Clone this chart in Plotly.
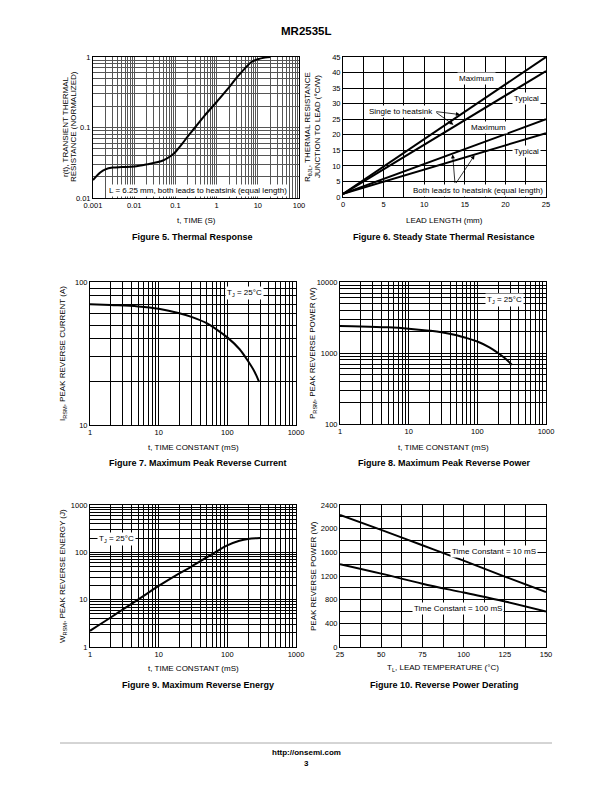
import plotly.graph_objects as go
import math

# ---------------- DATA ----------------
# Figure 5 - Thermal response
t5 = [0.001, 0.0015, 0.002, 0.003, 0.005, 0.01, 0.02, 0.05, 0.08, 0.1, 0.15, 0.2, 0.3, 0.5, 1, 2, 3, 5, 7, 10, 15, 20]
r5 = [0.018, 0.023, 0.0255, 0.027, 0.0275, 0.028, 0.030, 0.034, 0.040, 0.045, 0.060, 0.075, 0.10, 0.145, 0.23, 0.37, 0.50, 0.70, 0.85, 0.93, 0.98, 1.0]

# Figure 6 - Steady state thermal resistance
lead_len = [0, 25]
single_max = [1, 45]
single_typ = [1, 40.5]
both_max = [1, 25]
both_typ = [1, 20.5]

# Figure 7 - Maximum peak reverse current
t7 = [1, 2, 5, 10, 20, 30, 50, 70, 100, 150, 200, 250, 290]
i7 = [70, 69, 67.5, 65, 60.5, 57, 51.5, 46.5, 41, 34, 28, 23.5, 20]

# Figure 8 - Maximum peak reverse power
t8 = [1, 2, 5, 10, 20, 30, 50, 70, 100, 150, 200, 250, 320]
p8 = [2400, 2370, 2300, 2200, 2060, 1960, 1780, 1620, 1450, 1200, 1000, 850, 680]

# Figure 9 - Maximum reverse energy
t9 = [1, 2, 3, 5, 10, 20, 30, 50, 70, 100, 150, 200, 300]
w9 = [2.2, 4.2, 6.2, 10, 19.5, 36, 50, 78, 105, 140, 175, 192, 200]

# Figure 10 - Reverse power derating
temp10 = [25, 50, 75, 100, 125, 150]
p10_10ms = [2230, 1980, 1720, 1460, 1190, 930]
p10_100ms = [1400, 1240, 1070, 920, 770, 600]

# ---------------- LAYOUT HELPERS ----------------
OFF = 8  # default page body margin of the html page
W, H = 612 - OFF, 792 - OFF
FONT = "Liberation Sans, Arial, Helvetica, sans-serif"
TICKF = dict(family=FONT, size=7.5, color="black")


def px(x):
    return (x - OFF) / W


def py(y):
    return 1 - (y - OFF) / H


def dx(a, b):
    return [px(a), px(b)]


def dy(top, bottom):
    return [py(bottom), py(top)]


def log_ticks(lo, hi):
    major, minor = [], []
    for e in range(lo, hi):
        major.append(10 ** e)
        for m in range(2, 10):
            minor.append(m * 10 ** e)
    major.append(10 ** hi)
    return major, [f"{v:g}" for v in major], minor


def lin_ticks(lo, hi, step, label_every):
    major, minor = [], []
    n = int(round((hi - lo) / step))
    for i in range(n + 1):
        v = lo + i * step
        k = (v - lo) / label_every
        if abs(k - round(k)) < 1e-9:
            major.append(v)
        else:
            minor.append(v)
    return major, [f"{v:g}" for v in major], minor


def axis(domain, anchor, typ, rng, ticks, gridcolor="black", gw=0.8):
    vals, txt, minor = ticks
    return dict(
        domain=domain, anchor=anchor, type=typ, range=rng,
        tickmode="array", tickvals=vals, ticktext=txt,
        showgrid=True, gridcolor=gridcolor, gridwidth=gw,
        minor=dict(tickmode="array", tickvals=minor, showgrid=True,
                   gridcolor=gridcolor, gridwidth=gw, ticks=""),
        showline=True, mirror=True, linecolor="black", linewidth=1,
        ticks="", tickfont=TICKF, zeroline=False, automargin=False,
        fixedrange=True,
    )


fig = go.Figure()
line = dict(color="black", width=2)

fig.add_trace(go.Scatter(x=t5, y=r5, mode="lines", line=line, xaxis="x", yaxis="y", line_shape="spline"))
for ys in (single_max, single_typ, both_max, both_typ):
    fig.add_trace(go.Scatter(x=lead_len, y=ys, mode="lines", line=line, xaxis="x2", yaxis="y2"))
fig.add_trace(go.Scatter(x=t7, y=i7, mode="lines", line=line, xaxis="x3", yaxis="y3", line_shape="spline"))
fig.add_trace(go.Scatter(x=t8, y=p8, mode="lines", line=line, xaxis="x4", yaxis="y4", line_shape="spline"))
fig.add_trace(go.Scatter(x=t9, y=w9, mode="lines", line=line, xaxis="x5", yaxis="y5", line_shape="spline"))
fig.add_trace(go.Scatter(x=temp10, y=p10_10ms, mode="lines", line=line, xaxis="x6", yaxis="y6", line_shape="spline"))
fig.add_trace(go.Scatter(x=temp10, y=p10_100ms, mode="lines", line=line, xaxis="x6", yaxis="y6", line_shape="spline"))

# axes
xa1 = axis(dx(93, 299), "y", "log", [-3, 2], log_ticks(-3, 2), "#555")
ya1 = axis(dy(57, 198), "x", "log", [-2, 0], log_ticks(-2, 0), "#555")

xa2 = axis(dx(343, 546), "y2", "linear", [0, 25], lin_ticks(0, 25, 2.5, 5))
ya2 = axis(dy(57, 197), "x2", "linear", [0, 45], lin_ticks(0, 45, 5, 5))

xa3 = axis(dx(90, 296), "y3", "log", [0, 3], log_ticks(0, 3))
ya3 = axis(dy(282, 425), "x3", "log", [1, 2], log_ticks(1, 2))

xa4 = axis(dx(340, 546), "y4", "log", [0, 3], log_ticks(0, 3))
ya4 = axis(dy(282, 424), "x4", "log", [2, 4], log_ticks(2, 4))

xa5 = axis(dx(90, 296), "y5", "log", [0, 3], log_ticks(0, 3))
ya5 = axis(dy(505, 647), "x5", "log", [0, 3], log_ticks(0, 3))

xa6 = axis(dx(340, 546), "y6", "linear", [25, 150], lin_ticks(25, 150, 12.5, 25))
ya6 = axis(dy(505, 647), "x6", "linear", [0, 2400], lin_ticks(0, 2400, 200, 400))

annotations = []


def paper_text(x, y, text, size=8, bold=False, angle=0):
    if bold:
        text = f"<b>{text}</b>"
    annotations.append(dict(xref="paper", yref="paper", x=px(x), y=py(y), text=text,
                            showarrow=False, xanchor="center", yanchor="middle",
                            textangle=angle, font=dict(family=FONT, size=size, color="black")))


def box_text(xref, yref, x, y, text, size=8):
    annotations.append(dict(xref=xref, yref=yref, x=x, y=y, text=text, showarrow=False,
                            xanchor="center", yanchor="middle", bgcolor="white", borderpad=1,
                            font=dict(family=FONT, size=size, color="black")))


def arrow(xref, yref, x, y, ax, ay):
    annotations.append(dict(xref=xref, yref=yref, x=x, y=y, ax=ax, ay=ay,
                            axref=xref, ayref=yref, text="", showarrow=True,
                            arrowhead=2, arrowsize=1, arrowwidth=0.8, arrowcolor="black"))


CAP = 9

# page title
paper_text(306, 31, "MR2535L", size=11.5, bold=True)

# Figure 5 texts
paper_text(196, 221, "t, TIME (S)")
paper_text(192, 237, "Figure 5. Thermal Response", size=CAP, bold=True)
paper_text(65, 127, "r(t), TRANSIENT THERMAL", angle=-90)
paper_text(73, 127, "RESISTANCE (NORMALIZED)", angle=-90)
box_text("x", "y", -0.45, math.log10(0.0128), "L = 6.25 mm, both leads to heatsink (equal length)")

# Figure 6 texts
paper_text(444, 221, "LEAD LENGTH (mm)")
paper_text(444, 237, "Figure 6. Steady State Thermal Resistance", size=CAP, bold=True)
paper_text(308, 127, "R<sub>θJL</sub>, THERMAL RESISTANCE", angle=-90)
paper_text(317, 127, "JUNCTION TO LEAD (°C/W)", angle=-90)
box_text("x2", "y2", 16.5, 38, "Maximum")
box_text("x2", "y2", 22.6, 31.6, "Typical")
box_text("x2", "y2", 17.9, 22.5, "Maximum")
box_text("x2", "y2", 22.6, 14.5, "Typical")
box_text("x2", "y2", 7.2, 27.5, "Single to heatsink")
arrow("x2", "y2", 14.4, 26.5, 11.3, 27.5)
arrow("x2", "y2", 13.6, 23.2, 11.3, 27.5)
box_text("x2", "y2", 16.6, 2.1, "Both leads to heatsink (equal length)")
arrow("x2", "y2", 13.5, 13.7, 13.8, 4.0)
arrow("x2", "y2", 16.2, 13.4, 13.8, 4.0)

# Figure 7 texts
paper_text(193, 447, "t, TIME CONSTANT (mS)")
paper_text(198, 463, "Figure 7. Maximum Peak Reverse Current", size=CAP, bold=True)
paper_text(63, 353, "I<sub>RSM</sub>, PEAK REVERSE CURRENT (A)", angle=-90)
box_text("x3", "y3", 2.25, 1.92, "T<sub>J</sub> = 25°C")

# Figure 8 texts
paper_text(443, 447, "t, TIME CONSTANT (mS)")
paper_text(444, 463, "Figure 8. Maximum Peak Reverse Power", size=CAP, bold=True)
paper_text(313, 353, "P<sub>RSM</sub>, PEAK REVERSE POWER (W)", angle=-90)
box_text("x4", "y4", 2.39, 3.74, "T<sub>J</sub> = 25°C")

# Figure 9 texts
paper_text(193, 668, "t, TIME CONSTANT (mS)")
paper_text(198, 685, "Figure 9. Maximum Reverse Energy", size=CAP, bold=True)
paper_text(63, 576, "W<sub>RSM</sub>, PEAK REVERSE ENERGY (J)", angle=-90)
box_text("x5", "y5", 0.38, 2.29, "T<sub>J</sub> = 25°C")

# Figure 10 texts
paper_text(443, 668, "T<sub>L</sub>, LEAD TEMPERATURE (°C)")
paper_text(444, 685, "Figure 10. Reverse Power Derating", size=CAP, bold=True)
paper_text(313, 576, "PEAK REVERSE POWER (W)", angle=-90)
box_text("x6", "y6", 118.7, 1609, "Time Constant = 10 mS")
box_text("x6", "y6", 96.5, 649, "Time Constant = 100 mS")

# footer
paper_text(306, 752, "http://onsemi.com", size=8, bold=True)
paper_text(306, 763, "3", size=8, bold=True)

shapes = [dict(type="line", xref="paper", yref="paper", x0=px(60), x1=px(552), y0=py(743), y1=py(743),
               line=dict(color="#aaaaaa", width=1))]

fig.update_layout(
    width=W, height=H, margin=dict(l=0, r=0, t=0, b=0),
    paper_bgcolor="white", plot_bgcolor="white", showlegend=False,
    font=dict(family=FONT, size=8, color="black"),
    xaxis=xa1, yaxis=ya1, xaxis2=xa2, yaxis2=ya2, xaxis3=xa3, yaxis3=ya3,
    xaxis4=xa4, yaxis4=ya4, xaxis5=xa5, yaxis5=ya5, xaxis6=xa6, yaxis6=ya6,
    annotations=annotations, shapes=shapes,
)

fig.write_html("out.html")
